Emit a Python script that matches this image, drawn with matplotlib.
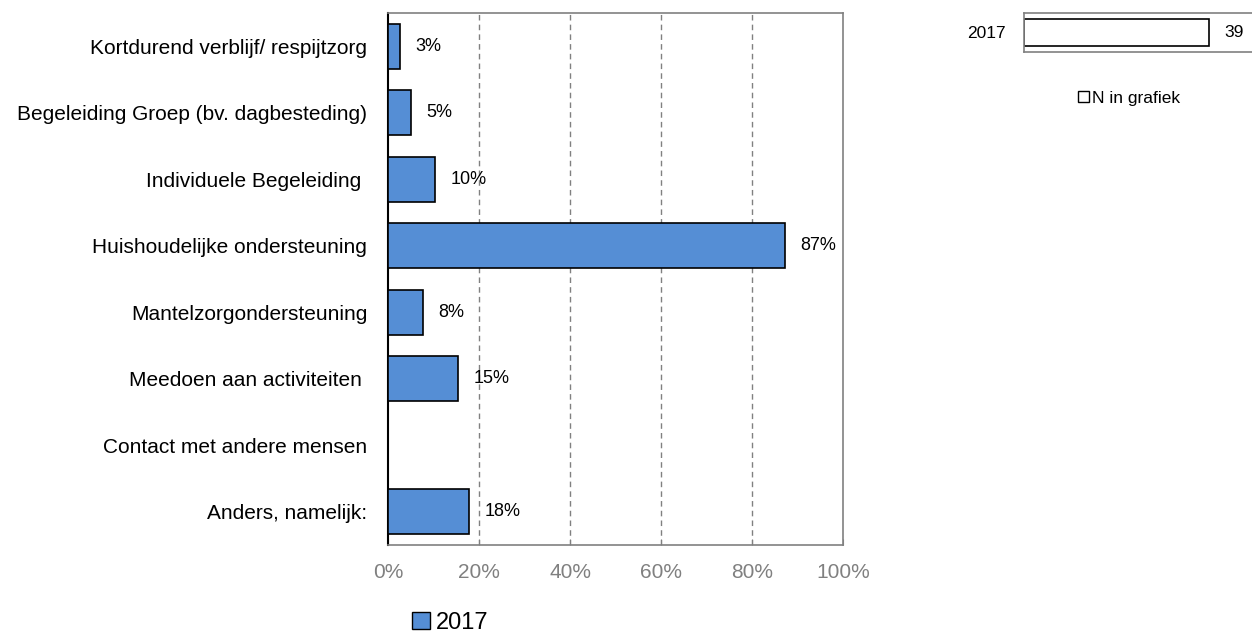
import matplotlib
matplotlib.use("Agg")
import matplotlib.pyplot as plt
from matplotlib.patches import Patch

plt.rcParams['font.family'] = ['Liberation Sans', 'DejaVu Sans']

# data
categories = [
    "Kortdurend verblijf/ respijtzorg",
    "Begeleiding Groep (bv. dagbesteding)",
    "Individuele Begeleiding ",
    "Huishoudelijke ondersteuning",
    "Mantelzorgondersteuning",
    "Meedoen aan activiteiten ",
    "Contact met andere mensen",
    "Anders, namelijk:",
]
values_2017 = [2.6, 5.1, 10.3, 87.2, 7.7, 15.4, 0.0, 17.9]
labels_2017 = ["3%", "5%", "10%", "87%", "8%", "15%", "", "18%"]
n_years = ["2017"]
n_values = [39]

blue = "#558ED5"
grey = "#808080"

W, H = 1252, 633
fig = plt.figure(figsize=(W / 100, H / 100), dpi=100)

# main chart
ax = fig.add_axes([388 / W, 1 - 545 / H, (843 - 388) / W, (545 - 13) / H])
y = list(range(len(categories)))
ax.barh(y, values_2017, height=0.68, color=blue, edgecolor="black", linewidth=1.2, zorder=3)
for yi, v, lab in zip(y, values_2017, labels_2017):
    if lab:
        ax.text(v + 3.4, yi, lab, va="center", ha="left", fontsize=13, zorder=4)
ax.set_ylim(len(categories) - 0.5, -0.5)
ax.set_xlim(0, 100)
ax.set_yticks(y)
ax.set_yticklabels(categories, fontsize=15)
ax.tick_params(axis="y", length=0, pad=15)
ax.set_xticks([0, 20, 40, 60, 80, 100])
ax.set_xticklabels(["0%", "20%", "40%", "60%", "80%", "100%"], fontsize=15, color=grey)
ax.tick_params(axis="x", direction="in", length=4, color=grey, pad=13)
for gx in [20, 40, 60, 80]:
    ax.axvline(gx, color=grey, linestyle=(0, (4, 3)), linewidth=1, zorder=1)
for s in ["top", "right", "bottom"]:
    ax.spines[s].set_color(grey)
    ax.spines[s].set_linewidth(1.2)
ax.spines["left"].set_color("black")
ax.spines["left"].set_linewidth(1.5)

fig.legend(handles=[Patch(facecolor=blue, edgecolor="black", label="2017")],
           loc="center", bbox_to_anchor=(450 / W, 1 - 623 / H), frameon=False,
           fontsize=17, handlelength=0.75, handleheight=0.75, handletextpad=0.25)

# N axis
axn = fig.add_axes([1024 / W, 1 - 52 / H, (1252 - 1024) / W, (52 - 13) / H])
axn.barh([0], n_values, height=0.68, color="white", edgecolor="black", linewidth=1.2)
for v in n_values:
    axn.text(v + 3.2, 0, str(v), va="center", ha="left", fontsize=12.5)
axn.set_xlim(0, 48)
axn.set_ylim(-0.5, 0.5)
axn.set_yticks([0])
axn.set_yticklabels(n_years, fontsize=12.5)
axn.tick_params(axis="y", length=0, pad=13)
axn.set_xticks([])
axn.spines["right"].set_visible(False)
for s in ["top", "bottom", "left"]:
    axn.spines[s].set_color(grey)
    axn.spines[s].set_linewidth(1.2)

fig.legend(handles=[Patch(facecolor="white", edgecolor="black", label="N in grafiek")],
           loc="center", bbox_to_anchor=(1129 / W, 1 - 98 / H), frameon=False,
           fontsize=12.5, handlelength=0.65, handleheight=0.65, handletextpad=0.2)

fig.savefig("out.png", dpi=100)
